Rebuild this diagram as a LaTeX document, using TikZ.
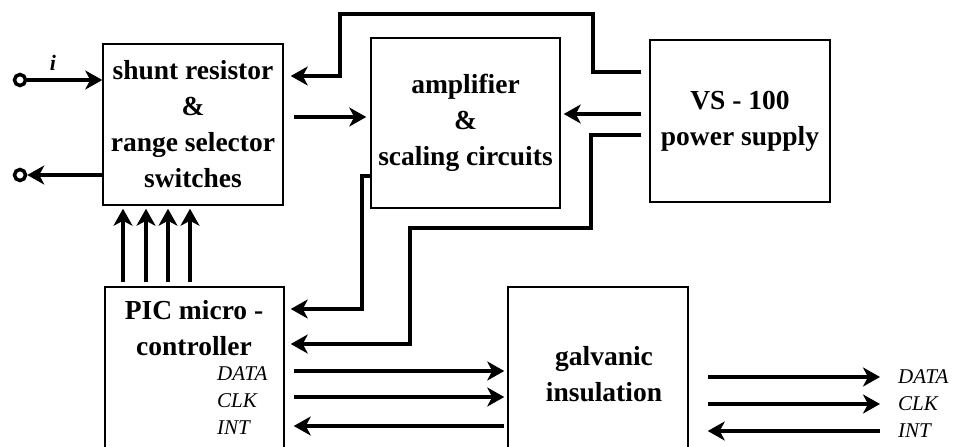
\documentclass[tikz,border=0pt]{standalone}
\usepackage{fontspec}
\setmainfont{Liberation Serif}
\usetikzlibrary{arrows.meta}
\begin{document}
\begin{tikzpicture}[x=1pt,y=-1pt,
  box/.style={draw, line width=1.5pt, inner sep=0pt, align=center, font=\bfseries\fontsize{27.5}{36}\selectfont},
  wire/.style={line width=4.5pt},
  arr/.style={wire, -{Stealth[length=17pt 0,width=19pt 0,inset=5pt 0]}},
  term/.style={circle, draw, line width=3.5pt, minimum size=11pt, inner sep=0pt},
  sig/.style={font=\itshape\fontsize{21}{21}\selectfont, inner sep=0pt, anchor=west},
  txt/.style={font=\bfseries\fontsize{27.5}{36}\selectfont, align=center, inner sep=0pt}]
\clip (0,0) rectangle (954,447);
\fill[white] (0,0) rectangle (954,447);
% boxes
\node[box, minimum width=180pt, minimum height=161pt] (shunt) at (193,124.5)
  {shunt resistor\\\&\\range selector\\switches};
\node[box, minimum width=189pt, minimum height=170pt] (amp) at (465.5,123)
  {amplifier\\\&\\scaling circuits};
\node[box, minimum width=180pt, minimum height=162pt] (vs) at (740,121)
  {VS - 100\\power supply};
\node[box, minimum width=179pt, minimum height=190pt] (pic) at (194.5,382) {};
\node[box, minimum width=180pt, minimum height=190pt] (gal) at (598,382) {};
\node[txt] (pictxt) at (194,328) {PIC micro -\\controller};
\node[txt] (galtxt) at (604,374.5) {galvanic\\insulation};
% terminals
\node[term] (tin) at (20,80) {};
\node[term] (tout) at (20,175) {};
\node[font=\bfseries\itshape\fontsize{22}{22}\selectfont] (ilab) at (53,63) {i};
\draw[arr] (tin) -- (shunt.west |- tin);
\draw[arr] (shunt.west |- tout) -- (tout);
% loops
\draw[arr, shorten <=8pt, shorten >=7pt] (vs.west |- 0,72) -- (593,72) -- (593,14) -- (340,14) -- (340,76) -- (shunt.east |- 0,76);
\draw[arr, shorten <=10pt, shorten >=4pt] (shunt.east |- 0,117) -- (amp.west |- 0,117);
\draw[arr, shorten <=8pt, shorten >=3pt] (vs.west |- 0,114) -- (amp.east |- 0,114);
\draw[arr, shorten <=8pt, shorten >=6pt] (vs.west |- 0,135) -- (591,135) -- (591,228) -- (410,228) -- (410,344) -- (pic.east |- 0,344);
\draw[arr, shorten >=6pt] (amp.west |- 0,176) -- (362,176) -- (362,309) -- (pic.east |- 0,309);
\foreach \x in {123,146,168,190}
  \draw[arr, shorten <=4pt, shorten >=3pt] (\x,0 |- pic.north) -- (\x,0 |- shunt.south);
% data lines
\draw[arr, shorten <=9pt, shorten >=3pt] (pic.east |- 0,371) -- (gal.west |- 0,371);
\draw[arr, shorten <=9pt, shorten >=3pt] (pic.east |- 0,397) -- (gal.west |- 0,397);
\draw[arr, shorten <=3pt, shorten >=9pt] (gal.west |- 0,426) -- (pic.east |- 0,426);
\node[sig] (d1) at (217,374) {DATA};
\node[sig] (c1) at (217,401) {CLK};
\node[sig] (i1) at (217,428) {INT};
\coordinate (dOut) at (880,377);
\coordinate (cOut) at (880,404);
\coordinate (iOut) at (880,431);
\draw[arr, shorten <=19pt] (gal.east |- dOut) -- (dOut);
\draw[arr, shorten <=19pt] (gal.east |- cOut) -- (cOut);
\draw[arr, shorten >=19pt] (iOut) -- (gal.east |- iOut);
\node[sig] (d2) at (898,377) {DATA};
\node[sig] (c2) at (898,404) {CLK};
\node[sig] (i2) at (898,431) {INT};
\end{tikzpicture}
\end{document}
